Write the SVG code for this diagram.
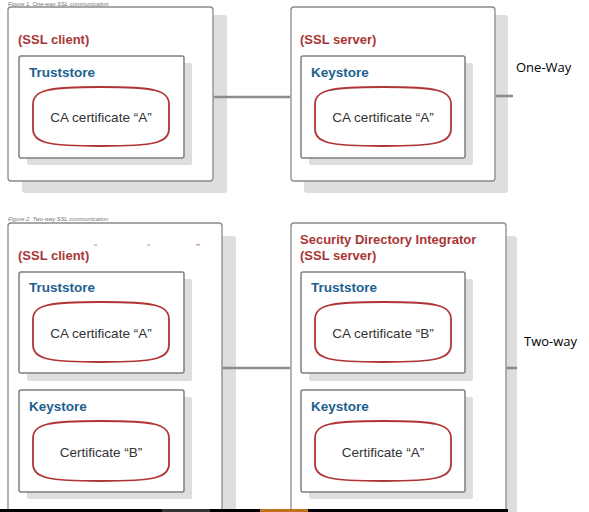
<svg xmlns="http://www.w3.org/2000/svg" width="589" height="512" viewBox="0 0 589 512">
<defs>
<style>
.outer{fill:#fff;stroke:#8a8a8a;stroke-width:1.3}
.shadow{fill:#dedede}
.inner{fill:#fff;stroke:#7f7f7f;stroke-width:1.5}
.cert{fill:#fff;stroke:#b03434;stroke-width:1.8}
.red{font-family:"Liberation Sans",Arial,sans-serif;font-weight:bold;font-size:13px;fill:#a83636}
.blue{font-family:"Liberation Sans",Arial,sans-serif;font-weight:bold;font-size:13.5px;fill:#1d6190}
.ct{font-family:"Liberation Sans",Arial,sans-serif;font-size:13.5px;fill:#333;text-anchor:middle}
.cap{font-family:"Liberation Sans",Arial,sans-serif;font-style:italic;font-size:5.8px;fill:#777}
.lbl{font-family:"Open Sans","Noto Sans",sans-serif;font-size:13px;fill:#000}
.conn{stroke:#8c8c8c;stroke-width:2.6;fill:none}
</style>
</defs>
<rect width="589" height="512" fill="#fff"/>
<text class="cap" x="8" y="6">Figure 1. One-way SSL communication</text>
<text class="cap" x="8" y="221">Figure 2. Two-way SSL communication</text>

<g id="client1">
<rect class="shadow" x="22" y="15" width="205" height="178" rx="3"/>
<rect class="outer" x="8" y="7" width="205" height="174" rx="3"/>
<text class="red" x="18" y="43.5">(SSL client)</text>
<g id="client1-truststore">
<rect class="shadow" x="27" y="63" width="165" height="102" rx="2"/>
<rect class="inner" x="19" y="56" width="165" height="102" rx="2"/>
<text class="blue" x="29" y="76.5">Truststore</text>
<path class="cert" d="M33,104 C33,90 48,87 101,87 C154,87 169,90 169,104 L169,129 C169,143 154,146 101,146 C48,146 33,143 33,129 Z"/>
<text class="ct" x="101" y="122">CA certificate “A”</text>
</g>
</g>

<g id="server1">
<rect class="shadow" x="304" y="15" width="204" height="178" rx="3"/>
<rect class="outer" x="291" y="7" width="204" height="174" rx="3"/>
<text class="red" x="300" y="43.5">(SSL server)</text>
<g id="server1-keystore">
<rect class="shadow" x="309" y="63" width="164" height="102" rx="2"/>
<rect class="inner" x="301" y="56" width="164" height="102" rx="2"/>
<text class="blue" x="311" y="76.5">Keystore</text>
<path class="cert" d="M315,104 C315,90 330,87 383,87 C436,87 451,90 451,104 L451,129 C451,143 436,146 383,146 C330,146 315,143 315,129 Z"/>
<text class="ct" x="383" y="122">CA certificate “A”</text>
</g>
</g>

<text class="lbl" x="516" y="72">One-Way</text>

<g id="client2">
<rect class="shadow" x="22" y="236" width="214" height="290" rx="3"/>
<rect class="outer" x="8" y="223" width="214" height="300" rx="3"/>
<rect x="94" y="244.5" width="3" height="1.2" fill="#d99a9a"/>
<rect x="147" y="244.5" width="3" height="1.2" fill="#d99a9a"/>
<rect x="196" y="244" width="4" height="1.5" fill="#d99a9a"/>
<text class="red" x="18" y="259.5">(SSL client)</text>
<g id="client2-truststore">
<rect class="shadow" x="27" y="279" width="165" height="102" rx="2"/>
<rect class="inner" x="19" y="272" width="165" height="101" rx="2"/>
<text class="blue" x="29" y="292">Truststore</text>
<path class="cert" d="M33,319 C33,305 48,302 101,302 C154,302 169,305 169,319 L169,345 C169,359 154,362 101,362 C48,362 33,359 33,345 Z"/>
<text class="ct" x="101" y="338">CA certificate “A”</text>
</g>
<g id="client2-keystore">
<rect class="shadow" x="27" y="397" width="165" height="102" rx="2"/>
<rect class="inner" x="19" y="390" width="165" height="102" rx="2"/>
<text class="blue" x="29" y="410.5">Keystore</text>
<path class="cert" d="M33,438 C33,424 48,421 101,421 C154,421 169,424 169,438 L169,464 C169,478 154,481 101,481 C48,481 33,478 33,464 Z"/>
<text class="ct" x="101" y="457">Certificate “B”</text>
</g>
</g>

<g id="server2">
<rect class="shadow" x="302" y="236" width="215" height="290" rx="3"/>
<rect class="outer" x="291" y="223" width="215" height="300" rx="3"/>
<text class="red" x="300" y="243.5">Security Directory Integrator</text>
<text class="red" x="300" y="259.5">(SSL server)</text>
<g id="server2-truststore">
<rect class="shadow" x="309" y="279" width="164" height="102" rx="2"/>
<rect class="inner" x="301" y="272" width="164" height="101" rx="2"/>
<text class="blue" x="311" y="292">Truststore</text>
<path class="cert" d="M315,319 C315,305 330,302 383,302 C436,302 451,305 451,319 L451,345 C451,359 436,362 383,362 C330,362 315,359 315,345 Z"/>
<text class="ct" x="383" y="338">CA certificate “B”</text>
</g>
<g id="server2-keystore">
<rect class="shadow" x="309" y="397" width="164" height="102" rx="2"/>
<rect class="inner" x="301" y="390" width="164" height="102" rx="2"/>
<text class="blue" x="311" y="410.5">Keystore</text>
<path class="cert" d="M315,438 C315,424 330,421 383,421 C436,421 451,424 451,438 L451,464 C451,478 436,481 383,481 C330,481 315,478 315,464 Z"/>
<text class="ct" x="383" y="457">Certificate “A”</text>
</g>
</g>

<text class="lbl" x="524" y="346">Two-way</text>

<g id="connectors">
<line class="conn" x1="213.7" y1="97" x2="290.3" y2="97"/>
<line class="conn" x1="495.7" y1="96" x2="513" y2="96"/>
<line class="conn" x1="222.7" y1="368" x2="290.3" y2="368"/>
<line class="conn" x1="506.7" y1="368" x2="517" y2="368"/>
</g>

<rect x="0" y="509" width="508" height="3" fill="#000"/>
<rect x="162" y="509" width="48" height="3" fill="#333"/>
<rect x="260" y="509" width="48" height="3" fill="#c0701e"/>
</svg>
